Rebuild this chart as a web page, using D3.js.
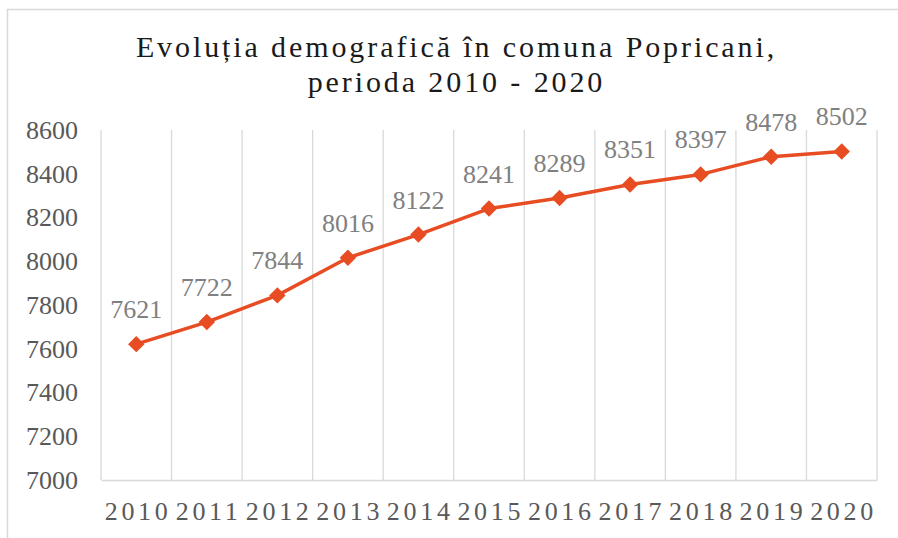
<!DOCTYPE html>
<html>
<head>
<meta charset="utf-8">
<script src="https://cdn.jsdelivr.net/npm/d3@7/dist/d3.min.js"></script>
<style>
  html, body { margin: 0; padding: 0; background: #fff; }
  svg { display: block; }
  text { font-family: "Liberation Serif", "Times New Roman", serif; }
</style>
</head>
<body>
<svg id="chart" width="898" height="538"></svg>
<script>
const titleLines = ["Evoluția demografică în comuna Popricani,", "perioda 2010 - 2020"];
const years = ["2010","2011","2012","2013","2014","2015","2016","2017","2018","2019","2020"];
const population = [7621, 7722, 7844, 8016, 8122, 8241, 8289, 8351, 8397, 8478, 8502];
const yTicks = [7000, 7200, 7400, 7600, 7800, 8000, 8200, 8400, 8600];

const svg = d3.select("#chart");
const W = 898, H = 538;
const margin = { left: 101, right: 21, top: 130, bottom: 58 };
const lineColor = "#E84C22";
const gridColor = "#d9d9d9";

// outer chart border (top and left edges visible)
svg.append("rect")
  .attr("x", 7.5).attr("y", 9.5)
  .attr("width", 900).attr("height", 540)
  .attr("fill", "#fff").attr("stroke", gridColor).attr("stroke-width", 1.5);

// title
const title = svg.append("text")
  .attr("text-anchor", "middle")
  .attr("font-size", 30)
  .attr("letter-spacing", 2.9)
  .attr("fill", "#1a1a1a");
titleLines.forEach((t, i) => {
  title.append("tspan").attr("x", 456.5).attr("y", 57 + i * 35).text(t);
});

const x = d3.scaleBand().domain(years).range([margin.left, W - margin.right]).padding(0);
const y = d3.scaleLinear().domain([7000, 8600]).range([H - margin.bottom, margin.top]);

// vertical gridlines at category boundaries
const bounds = years.map(d => x(d)).concat([x(years[years.length - 1]) + x.bandwidth()]);
svg.append("g").selectAll("line").data(bounds).join("line")
  .attr("x1", d => d).attr("x2", d => d)
  .attr("y1", y(8600)).attr("y2", y(7000))
  .attr("stroke", gridColor).attr("stroke-width", 1.3);

// x axis
const xAxis = svg.append("g")
  .attr("transform", `translate(0,${y(7000)})`)
  .call(d3.axisBottom(x).tickSize(0).tickPadding(22));
xAxis.select(".domain").attr("stroke", gridColor).attr("stroke-width", 1.5);
xAxis.selectAll("text")
  .attr("font-family", "'Liberation Serif', 'Times New Roman', serif")
  .attr("font-size", 26)
  .attr("letter-spacing", 3.7)
  .attr("dx", 1.8)
  .attr("fill", "#595959");

// y axis
const yAxis = svg.append("g")
  .attr("transform", `translate(${margin.left},0)`)
  .call(d3.axisLeft(y).tickValues(yTicks).tickSize(0).tickPadding(23).tickFormat(d3.format("d")));
yAxis.select(".domain").remove();
yAxis.selectAll("text")
  .attr("font-family", "'Liberation Serif', 'Times New Roman', serif")
  .attr("font-size", 26)
  .attr("fill", "#595959");

const cx = d => x(d) + x.bandwidth() / 2;

// line
svg.append("path")
  .datum(years.map((d, i) => [d, population[i]]))
  .attr("fill", "none")
  .attr("stroke", lineColor)
  .attr("stroke-width", 3.5)
  .attr("stroke-linejoin", "round")
  .attr("d", d3.line().x(d => cx(d[0])).y(d => y(d[1])));

// diamond markers
const diamond = d3.symbol().type(d3.symbolSquare).size(135);
svg.append("g").selectAll("path").data(years).join("path")
  .attr("d", diamond)
  .attr("transform", (d, i) => `translate(${cx(d)},${y(population[i])}) rotate(45)`)
  .attr("fill", lineColor);

// data labels
svg.append("g").selectAll("text").data(years).join("text")
  .attr("x", d => cx(d))
  .attr("y", (d, i) => y(population[i]) - 26)
  .attr("text-anchor", "middle")
  .attr("font-size", 26)
  .attr("fill", "#808080")
  .text((d, i) => population[i]);
</script>
</body>
</html>
